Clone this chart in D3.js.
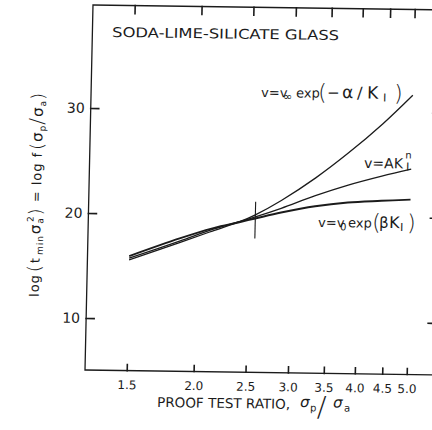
<!DOCTYPE html>
<html><head><meta charset="utf-8">
<script src="https://cdn.jsdelivr.net/npm/d3@7"></script>
<style>html,body{margin:0;padding:0;background:#fff}svg{display:block}</style>
</head><body>
<svg id="c" width="432" height="430"></svg>
<script>
// ---- data ----
const proofRatio = [1.5, 1.86, 2.14, 2.41, 2.57, 2.87, 3.32, 3.82, 4.41, 5.0];
const vInfExp    = [15.6, 17.3, 18.45, 19.4, 20.05, 21.45, 23.65, 26.1, 28.9, 31.65];
const powerLaw   = [15.75, 17.45, 18.6, 19.4, 19.85, 20.7, 21.95, 23.0, 23.9, 24.6];
const v0Exp      = [15.95, 17.7, 18.7, 19.35, 19.7, 20.3, 20.95, 21.35, 21.55, 21.7];
const markRatio  = [2.57, 2.57];
const markLog    = [17.8, 21.3];
const xTickValues = [1.5, 2.0, 2.5, 3.0, 3.5, 4.0, 4.5, 5.0];
const xTickLabels = ["1.5", "2.0", "2.5", "3.0", "3.5", "4.0", "4.5", "5.0"];
const yTickValues = [10, 20, 30];
const yTickLabels = ["10", "20", "30"];
const titleText = "SODA-LIME-SILICATE GLASS";
const xLabelText = "PROOF TEST RATIO,";

// ---- layout ----
const ink = "#1b1b1b";
const font = "'DejaVu Sans', 'Liberation Sans', sans-serif";
const L = 85, R = 433, T = 5, B = 370;
const svg = d3.select("#c");
svg.append("rect").attr("width", 432).attr("height", 430).attr("fill", "#fff");
// slight tilt of the scanned page
const g = svg.append("g").attr("transform", "matrix(1,0.014,-0.0219,1,8.103,-1.19)");

const x = d3.scaleLog().domain([1.5, 5]).range([126.7, 406.7]);
const y = d3.scaleLinear().domain([10, 30]).range([318, 108]);

// frame
g.append("rect").attr("x", L).attr("y", T).attr("width", R - L).attr("height", B - T)
  .attr("fill", "none").attr("stroke", ink).attr("stroke-width", 1.3);

function styleAxis(sel, fs) {
  sel.select(".domain").remove();
  sel.selectAll(".tick line").attr("stroke", ink).attr("stroke-width", 1.6)
    .attr("stroke-linecap", "square");
  sel.selectAll(".tick text").attr("fill", ink).attr("font-family", font).attr("font-size", fs);
}
g.append("g").attr("transform", `translate(0,${B})`)
  .call(d3.axisBottom(x).tickValues(xTickValues).tickFormat((d, i) => xTickLabels[i])
    .tickSizeInner(-6).tickSizeOuter(0).tickPadding(10))
  .call(s => styleAxis(s, 12));
g.append("g").attr("transform", `translate(0,${T})`)
  .call(d3.axisTop(x).tickValues(xTickValues).tickFormat(() => "").tickSizeInner(-8).tickSizeOuter(0))
  .call(s => styleAxis(s, 12));
g.append("g").attr("transform", `translate(${L},0)`)
  .call(d3.axisLeft(y).tickValues(yTickValues).tickFormat((d, i) => yTickLabels[i])
    .tickSizeInner(-8).tickSizeOuter(0).tickPadding(6))
  .call(s => styleAxis(s, 14));
g.append("g").attr("transform", `translate(${R},0)`)
  .call(d3.axisRight(y).tickValues(yTickValues).tickFormat(() => "").tickSizeInner(-6).tickSizeOuter(0))
  .call(s => styleAxis(s, 12));

// curves
const line = d3.line().x(d => x(d[0])).y(d => y(d[1])).curve(d3.curveCatmullRom.alpha(0.5));
const series = [
  { vals: vInfExp, w: 1.3 },
  { vals: powerLaw, w: 1.3 },
  { vals: v0Exp, w: 1.9 }
];
series.forEach(s => {
  g.append("path").datum(proofRatio.map((r, i) => [r, s.vals[i]]))
    .attr("d", line).attr("fill", "none").attr("stroke", ink).attr("stroke-width", s.w)
    .attr("stroke-linejoin", "round");
});
g.append("path").datum(markRatio.map((r, i) => [r, markLog[i]]))
  .attr("d", d3.line().x(d => x(d[0])).y(d => y(d[1])))
  .attr("stroke", ink).attr("stroke-width", 1.1);

// rich text helper: positions given in page coords, converted to pre-tilt coords
function pre(X, Y) { return [X + 0.0219 * (Y - 370), Y - 0.014 * (X - 85)]; }
function rich(X0, Y0, parts, base) {
  const [px, py] = pre(X0, Y0);
  const t = g.append("text").attr("x", px).attr("y", py).attr("font-family", font)
    .attr("font-size", base).attr("fill", ink);
  let cur = 0;
  parts.forEach(p => {
    const s = t.append("tspan").text(p.t).attr("x", px + p.r);
    const off = p.dy || 0;
    if (off !== cur) s.attr("dy", off - cur);
    cur = off;
    if (p.size) s.attr("font-size", p.size);
    if (p.style) s.attr("font-style", p.style);
    if (p.w) s.attr("font-weight", p.w);
  });
  return t;
}

// title
{
  const [px, py] = pre(112, 37);
  g.append("text").attr("x", px).attr("y", py).text(titleText)
    .attr("font-family", font).attr("font-size", 13.5).attr("fill", ink)
    .attr("textLength", 227).attr("lengthAdjust", "spacingAndGlyphs");
}

// curve labels
rich(261, 97, [
  { t: "v=v", r: 0 },
  { t: "\u221E", r: 22, size: 11, dy: 3 },
  { t: "exp", r: 35 },
  { t: "(", r: 57, size: 22, dy: 2, w: 200 },
  { t: "\u2212", r: 66, size: 15 },
  { t: "\u03B1", r: 81, size: 17 },
  { t: "/", r: 96, size: 16 },
  { t: "K", r: 106, size: 17 },
  { t: "I", r: 122, size: 11, dy: 3 },
  { t: ")", r: 133, size: 22, dy: 2, w: 200 }
], 13);

rich(364, 168, [
  { t: "v=AK", r: 0 },
  { t: "n", r: 41, size: 10, dy: -10 },
  { t: "I", r: 42, size: 11, dy: 2 }
], 14);

rich(318, 227, [
  { t: "v=v", r: 0 },
  { t: "0", r: 22, size: 10, dy: 3 },
  { t: "exp", r: 30 },
  { t: "(", r: 54, size: 22, dy: 2, w: 200 },
  { t: "\u03B2", r: 61, size: 15 },
  { t: "K", r: 71, size: 16 },
  { t: "I", r: 82, size: 11, dy: 3 },
  { t: ")", r: 89, size: 22, dy: 2, w: 200 }
], 13);

// x axis label
{
  const [px, py] = pre(157, 407);
  g.append("text").attr("x", px).attr("y", py).text(xLabelText)
    .attr("font-family", font).attr("font-size", 13.5).attr("fill", ink)
    .attr("textLength", 133).attr("lengthAdjust", "spacingAndGlyphs");
}
rich(300, 407, [
  { t: "\u03C3", r: 0, size: 15, style: "italic" },
  { t: "p", r: 10, size: 10, dy: 4 },
  { t: "/", r: 17, size: 28, dy: 9, w: 200 },
  { t: "\u03C3", r: 33, size: 15, style: "italic" },
  { t: "a", r: 44, size: 10, dy: 4 }
], 14);

// y axis label (rotated)
{
  const [px, py] = pre(41, 195);
  const t = g.append("text").attr("transform", `translate(${px},${py}) rotate(-90)`)
    .attr("text-anchor", "middle").attr("font-family", font).attr("font-size", 13).attr("fill", ink);
  const parts = [
    { t: "log", dy: 0 },
    { t: "(", size: 18, dy: 1, dx: 2, w: 200 },
    { t: "t", dy: 0, dx: 1 },
    { t: "min", size: 9, dy: 3, dx: 2 },
    { t: "\u03C3", size: 15, dy: 0, dx: 1 },
    { t: "a", size: 9, dy: 3 },
    { t: "2", size: 9, dy: -7, dx: -5 },
    { t: ")", size: 18, dy: 1, w: 200 },
    { t: " = log f", dy: 0 },
    { t: "(", size: 18, dy: 1, dx: 2, w: 200 },
    { t: "\u03C3", size: 15, dy: 0 },
    { t: "p", size: 9, dy: 3 },
    { t: "/", size: 20, dy: 1, w: 200 },
    { t: "\u03C3", size: 15, dy: 0 },
    { t: "a", size: 9, dy: 3 },
    { t: ")", size: 18, dy: 1, w: 200 }
  ];
  let cur = 0;
  parts.forEach(p => {
    const s = t.append("tspan").text(p.t);
    if (p.dy !== cur) s.attr("dy", p.dy - cur);
    cur = p.dy;
    if (p.dx) s.attr("dx", p.dx);
    if (p.size) s.attr("font-size", p.size);
    if (p.w) s.attr("font-weight", p.w);
  });
  t.attr("textLength", 204).attr("lengthAdjust", "spacing");
}
</script>
</body></html>
